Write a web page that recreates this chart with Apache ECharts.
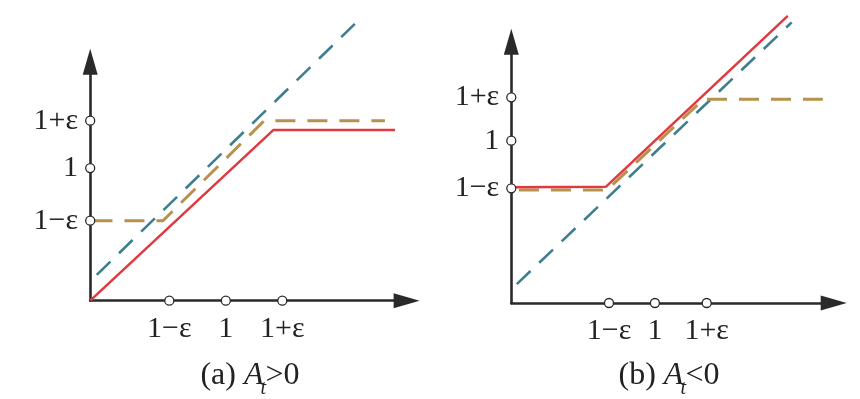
<!DOCTYPE html>
<html><head><meta charset="utf-8">
<script src="https://cdn.jsdelivr.net/npm/echarts@6/dist/echarts.min.js"></script>
<style>html,body{margin:0;padding:0;background:#fff}#c{width:860px;height:399px}</style>
</head><body><div id="c"></div>
<script>
// tick labels (same on both axes of both panels)
const tickLabels = ['1\u2212\u03b5', '1', '1+\u03b5'];

// ---- panel (a): A_t > 0 ----
const aXRange = [0.40, 1.80];
const aYRange = [0.35, 1.545];
const aXTicks = [0.75, 1.0, 1.25];
const aYTicks = [0.75, 1.013, 1.25];
const aRed  = [[0.40, 0.35], [1.21, 1.203], [1.749, 1.203]];
const aGold = [[0.41, 0.75], [0.722, 0.75], [1.17, 1.25], [1.704, 1.25]];
const aBlue = [[0.429, 0.479], [1.601, 1.767]];

// ---- panel (b): A_t < 0 ----
const bXRange = [0.25, 1.90];
const bYRange = [0.12, 1.555];
const bXTicks = [0.75, 0.985, 1.25];
const bYTicks = [0.75, 1.012, 1.25];
const bRed  = [[0.255, 0.756], [0.735, 0.759], [1.665, 1.697]];
const bGold = [[0.289, 0.741], [0.74, 0.741], [1.233, 1.239], [1.844, 1.239]];
const bBlue = [[0.278, 0.224], [1.685, 1.662]];

const captions = ['(a) ', '(b) '];
const signs = ['>0', '<0'];

const AXIS = '#2a2a2a';
const RED = '#e0393e';
const GOLD = '#b8914c';
const BLUE = '#3d7f8e';
const SERIF = '"Liberation Serif", "DejaVu Serif", serif';

function axisCommon(range) {
  return {
    type: 'value', min: range[0], max: range[1],
    axisLine: { onZero: false, symbol: ['none', 'triangle'], symbolSize: [15, 26],
      lineStyle: { color: AXIS, width: 2.6 } },
    axisTick: { show: false }, axisLabel: { show: false }, splitLine: { show: false }
  };
}

function lineSeries(idx, data, color, width, dash, z) {
  return {
    type: 'line', xAxisIndex: idx, yAxisIndex: idx, data: data,
    showSymbol: false, symbol: 'none', clip: false, silent: true, z: z,
    lineStyle: { color: color, width: width, type: dash || 'solid' },
    animation: false
  };
}

function tickSeries(idx, xTicks, yTicks, xRange, yRange) {
  const pts = [];
  xTicks.forEach((v, i) => pts.push({ value: [v, yRange[0]], name: tickLabels[i],
    label: { position: 'bottom', distance: 8 } }));
  yTicks.forEach((v, i) => pts.push({ value: [xRange[0], v], name: tickLabels[i],
    label: { position: 'left', distance: 7 } }));
  return {
    type: 'scatter', xAxisIndex: idx, yAxisIndex: idx, data: pts, z: 20,
    symbol: 'circle', symbolSize: 9, clip: false, silent: true, animation: false,
    itemStyle: { color: '#fff', borderColor: AXIS, borderWidth: 1.3, opacity: 1 },
    label: { show: true, formatter: p => p.name, fontFamily: SERIF, fontSize: 30, color: '#222' }
  };
}

// caption built from separately measured pieces (italic A with subscript t)
const mctx = document.createElement('canvas').getContext('2d');
function tw(font, s) { mctx.font = font; return mctx.measureText(s).width; }
const FN = '32px ' + SERIF, FI = 'italic 32px ' + SERIF, FS = 'italic 20px ' + SERIF;
function caption(cx, k) {
  const w1 = tw(FN, captions[k]), wA = tw(FI, 'A'), w3 = tw(FN, signs[k]);
  const total = w1 + wA + 2 + w3;
  let x = cx - total / 2;
  const y = 376;
  const els = [];
  els.push({ type: 'text', x: x, y: y, style: { text: captions[k], font: FN, fill: '#222', align: 'left', verticalAlign: 'middle' } });
  x += w1;
  els.push({ type: 'text', x: x, y: y, style: { text: 'A', font: FI, fill: '#222', align: 'left', verticalAlign: 'middle' } });
  x += wA;
  els.push({ type: 'text', x: x - 3, y: y + 13, style: { text: 't', font: FS, fill: '#222', align: 'left', verticalAlign: 'middle' } });
  x += 2;
  els.push({ type: 'text', x: x, y: y, style: { text: signs[k], font: FN, fill: '#222', align: 'left', verticalAlign: 'middle' } });
  return els;
}

const chart = echarts.init(document.getElementById('c'), null, { renderer: 'canvas' });
chart.setOption({
  backgroundColor: '#fff',
  animation: false,
  grid: [
    { left: 90.2, top: 61.7, width: 316.4, height: 239 },
    { left: 511.3, top: 41.8, width: 322.4, height: 261.2 }
  ],
  xAxis: [Object.assign(axisCommon(aXRange), { gridIndex: 0 }), Object.assign(axisCommon(bXRange), { gridIndex: 1 })],
  yAxis: [Object.assign(axisCommon(aYRange), { gridIndex: 0 }), Object.assign(axisCommon(bYRange), { gridIndex: 1 })],
  graphic: caption(250, 0).concat(caption(669, 1)),
  series: [
    lineSeries(0, aBlue, BLUE, 2.6, [19, 12], 2),
    lineSeries(0, aGold, GOLD, 3, [20, 12], 3),
    lineSeries(0, aRed, RED, 2.5, null, 4),
    tickSeries(0, aXTicks, aYTicks, aXRange, aYRange),
    lineSeries(1, bBlue, BLUE, 2.6, [19, 12], 2),
    lineSeries(1, bGold, GOLD, 3, [20, 12], 3),
    lineSeries(1, bRed, RED, 2.5, null, 4),
    tickSeries(1, bXTicks, bYTicks, bXRange, bYRange)
  ]
});
</script></body></html>
